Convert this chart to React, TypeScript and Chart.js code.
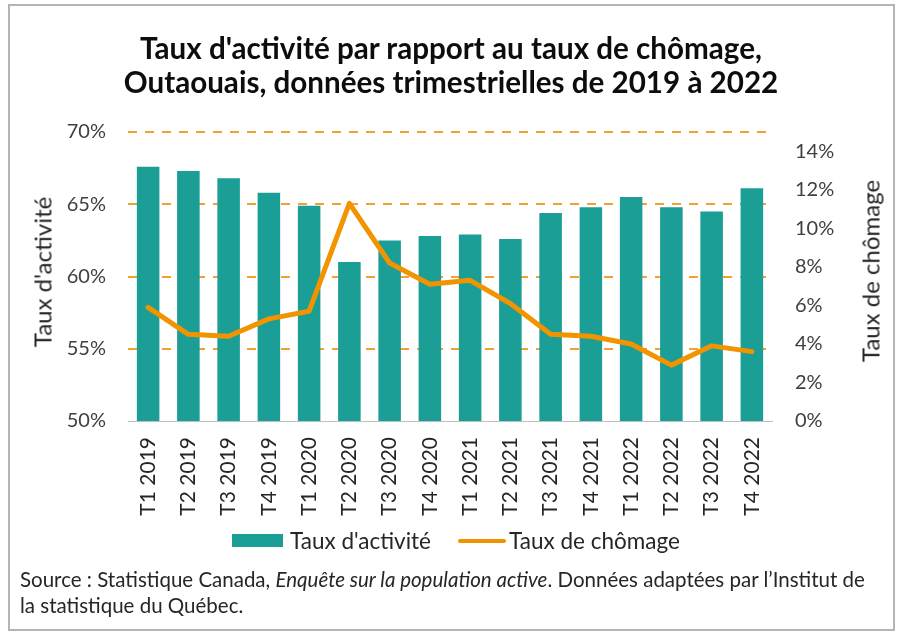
import React, { useEffect, useRef } from "react";
import { Chart, registerables } from "chart.js";

Chart.register(...registerables);

const categories = [
  "T1 2019", "T2 2019", "T3 2019", "T4 2019",
  "T1 2020", "T2 2020", "T3 2020", "T4 2020",
  "T1 2021", "T2 2021", "T3 2021", "T4 2021",
  "T1 2022", "T2 2022", "T3 2022", "T4 2022",
];
const tauxActivite = [67.6, 67.3, 66.8, 65.8, 64.9, 61.0, 62.5, 62.8, 62.9, 62.6, 64.4, 64.8, 65.5, 64.8, 64.5, 66.1];
const tauxChomage = [5.9, 4.5, 4.4, 5.3, 5.7, 11.3, 8.2, 7.1, 7.3, 6.1, 4.5, 4.4, 4.0, 2.9, 3.9, 3.6];
const leftTicks = [50, 55, 60, 65, 70];
const rightTicks = [0, 2, 4, 6, 8, 10, 12, 14];

const titleLines = [
  "Taux d'activité par rapport au taux de chômage,",
  "Outaouais, données trimestrielles de 2019 à 2022",
];
const leftAxisTitle = "Taux d'activité";
const rightAxisTitle = "Taux de chômage";
const seriesNames = ["Taux d'activité", "Taux de chômage"];

const TEAL = "#1B9E95";
const ORANGE = "#F29300";
const GRID_ORANGE = "#F4A033";
const FONT = "Lato, 'Open Sans', sans-serif";

const W = 900;
const H = 631;
const PLOT_LEFT = 128;
const PLOT_RIGHT = 772;
const PLOT_TOP = 132;
const PLOT_BOTTOM = 421;

export default function App() {
  const ref = useRef<HTMLCanvasElement | null>(null);

  useEffect(() => {
    if (!ref.current) return;
    const chart = new Chart(ref.current, {
      type: "bar",
      data: {
        labels: categories,
        datasets: [
          {
            type: "line",
            label: seriesNames[1],
            data: tauxChomage,
            yAxisID: "y1",
            borderColor: ORANGE,
            backgroundColor: ORANGE,
            borderWidth: 5,
            pointRadius: 0,
            tension: 0,
            borderJoinStyle: "round",
            borderCapStyle: "round",
            order: 0,
          } as any,
          {
            type: "bar",
            label: seriesNames[0],
            data: tauxActivite,
            yAxisID: "y",
            backgroundColor: TEAL,
            barPercentage: 0.56,
            categoryPercentage: 1,
            order: 1,
          },
        ],
      },
      options: {
        responsive: false,
        animation: false,
        devicePixelRatio: 1,
        layout: { padding: { top: PLOT_TOP, left: 0, right: 0, bottom: 0 } },
        plugins: {
          legend: { display: false },
          title: { display: false },
          tooltip: { enabled: false },
        },
        scales: {
          x: {
            grid: { display: false, drawTicks: false },
            border: { display: true, color: "#BFBFBF", width: 1 },
            ticks: {
              minRotation: 90,
              maxRotation: 90,
              autoSkip: false,
              padding: 16,
              color: "#262626",
              font: { family: FONT, size: 21 },
            },
            afterFit: (s: any) => {
              s.height = H - PLOT_BOTTOM;
            },
          },
          y: {
            position: "left",
            min: leftTicks[0],
            max: leftTicks[leftTicks.length - 1],
            ticks: {
              padding: 22,
              color: "#404040",
              font: { family: FONT, size: 20 },
              callback: (v: any) => `${v}%`,
            },
            afterBuildTicks: (s: any) => {
              s.ticks = leftTicks.map((v) => ({ value: v }));
            },
            grid: {
              drawTicks: false,
              lineWidth: 2,
              color: (ctx: any) => (ctx.tick && ctx.tick.value === leftTicks[0] ? "rgba(0,0,0,0)" : GRID_ORANGE),
            },
            border: { display: false, dash: [9, 8] },
            afterFit: (s: any) => {
              s.width = PLOT_LEFT;
            },
          },
          y1: {
            position: "right",
            min: 0,
            max: 15,
            ticks: {
              padding: 23,
              color: "#404040",
              font: { family: FONT, size: 20 },
              callback: (v: any) => `${v}%`,
            },
            afterBuildTicks: (s: any) => {
              s.ticks = rightTicks.map((v) => ({ value: v }));
            },
            grid: { display: false, drawTicks: false },
            border: { display: false },
            afterFit: (s: any) => {
              s.width = W - PLOT_RIGHT;
            },
          },
        },
      },
    });
    return () => chart.destroy();
  }, []);

  const textBase: React.CSSProperties = {
    position: "absolute",
    fontFamily: FONT,
    whiteSpace: "nowrap",
  };

  return (
    <div style={{ position: "absolute", left: 0, top: 0, width: W, height: H, background: "#fff", overflow: "hidden" }}>
      <div
        style={{
          position: "absolute",
          left: 8,
          top: 4,
          width: 883,
          height: 623,
          border: "2px solid #B4B4B4",
          boxSizing: "content-box",
        }}
      />
      <canvas ref={ref} width={W} height={H} style={{ position: "absolute", left: 0, top: 0 }} />
      <div
        style={{
          ...textBase,
          left: 0,
          width: 902,
          top: 31,
          textAlign: "center",
          fontWeight: 700,
          fontSize: 29.6,
          lineHeight: "34px",
          color: "#0D0D0D",
        }}
      >
        {titleLines.map((t) => (
          <div key={t}>{t}</div>
        ))}
      </div>
      <div
        style={{
          ...textBase,
          left: 42,
          top: 272,
          transform: "translate(-50%, -50%) rotate(-90deg)",
          fontSize: 24,
          color: "#262626",
        }}
      >
        {leftAxisTitle}
      </div>
      <div
        style={{
          ...textBase,
          left: 870,
          top: 271,
          transform: "translate(-50%, -50%) rotate(-90deg)",
          fontSize: 24,
          color: "#262626",
        }}
      >
        {rightAxisTitle}
      </div>
      <div style={{ position: "absolute", left: 232, top: 534, width: 51, height: 13, background: TEAL }} />
      <div style={{ ...textBase, left: 290, top: 527, fontSize: 22.5, lineHeight: "28px", color: "#262626" }}>
        {seriesNames[0]}
      </div>
      <div style={{ position: "absolute", left: 458, top: 539, width: 48, height: 4, background: ORANGE, borderRadius: 2 }} />
      <div style={{ ...textBase, left: 509, top: 527, fontSize: 22.5, lineHeight: "28px", color: "#262626" }}>
        {seriesNames[1]}
      </div>
      <div style={{ ...textBase, left: 20, top: 566, fontSize: 20.5, lineHeight: "26px", color: "#262626" }}>
        <div>
          Source : Statistique Canada, <i>Enquête sur la population active</i>. Données adaptées par l’Institut de
        </div>
        <div>la statistique du Québec.</div>
      </div>
    </div>
  );
}
